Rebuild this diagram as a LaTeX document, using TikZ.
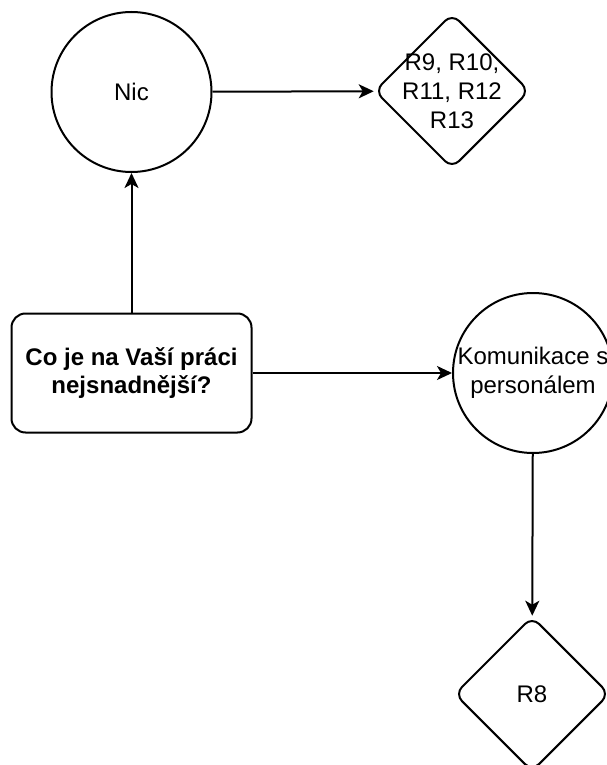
\documentclass[tikz,border=0pt]{standalone}
\usepackage{fontspec}
\setmainfont{Liberation Sans}
\usetikzlibrary{shapes.geometric,arrows.meta}
\begin{document}
\begin{tikzpicture}[x=1pt,y=-1pt, line width=2pt,
  every node/.style={font=\fontsize{24}{28.8}\selectfont, align=center},
  roundnode/.style={circle, draw, minimum size=160pt, inner sep=0pt},
  decision/.style={diamond, draw, rounded corners=10pt, minimum width=155pt, minimum height=155pt, inner sep=0pt},
  question/.style={rectangle, draw, rounded corners=14pt, minimum width=240pt, minimum height=119pt, inner sep=0pt, font=\fontsize{24}{28.8}\selectfont\bfseries},
  flow/.style={-{Stealth[length=15pt,width=14pt,inset=4pt]}}
]
\useasboundingbox (0,0) rectangle (607,765);
% outcome nodes
\node[roundnode] (nic) at (131.5,92) {Nic};
\node[decision, label={[align=center]center:R9, R10,\\R11, R12\\R13}] (r9) at (452,91) {};
% question
\node[question] (q) at (131.5,373) {Co je na Vaší práci\\nejsnadnější?};
\node[roundnode] (kom) at (533,373) {Komunikace s\\personálem};
\node[decision, label={center:R8}] (r8) at (532,694) {};
% connectors
\draw[flow] (q) -- (nic);
\draw[flow] (nic) -- (r9);
\draw[flow] (q) -- (kom);
\draw[flow] (kom) -- (r8);
\end{tikzpicture}
\end{document}
